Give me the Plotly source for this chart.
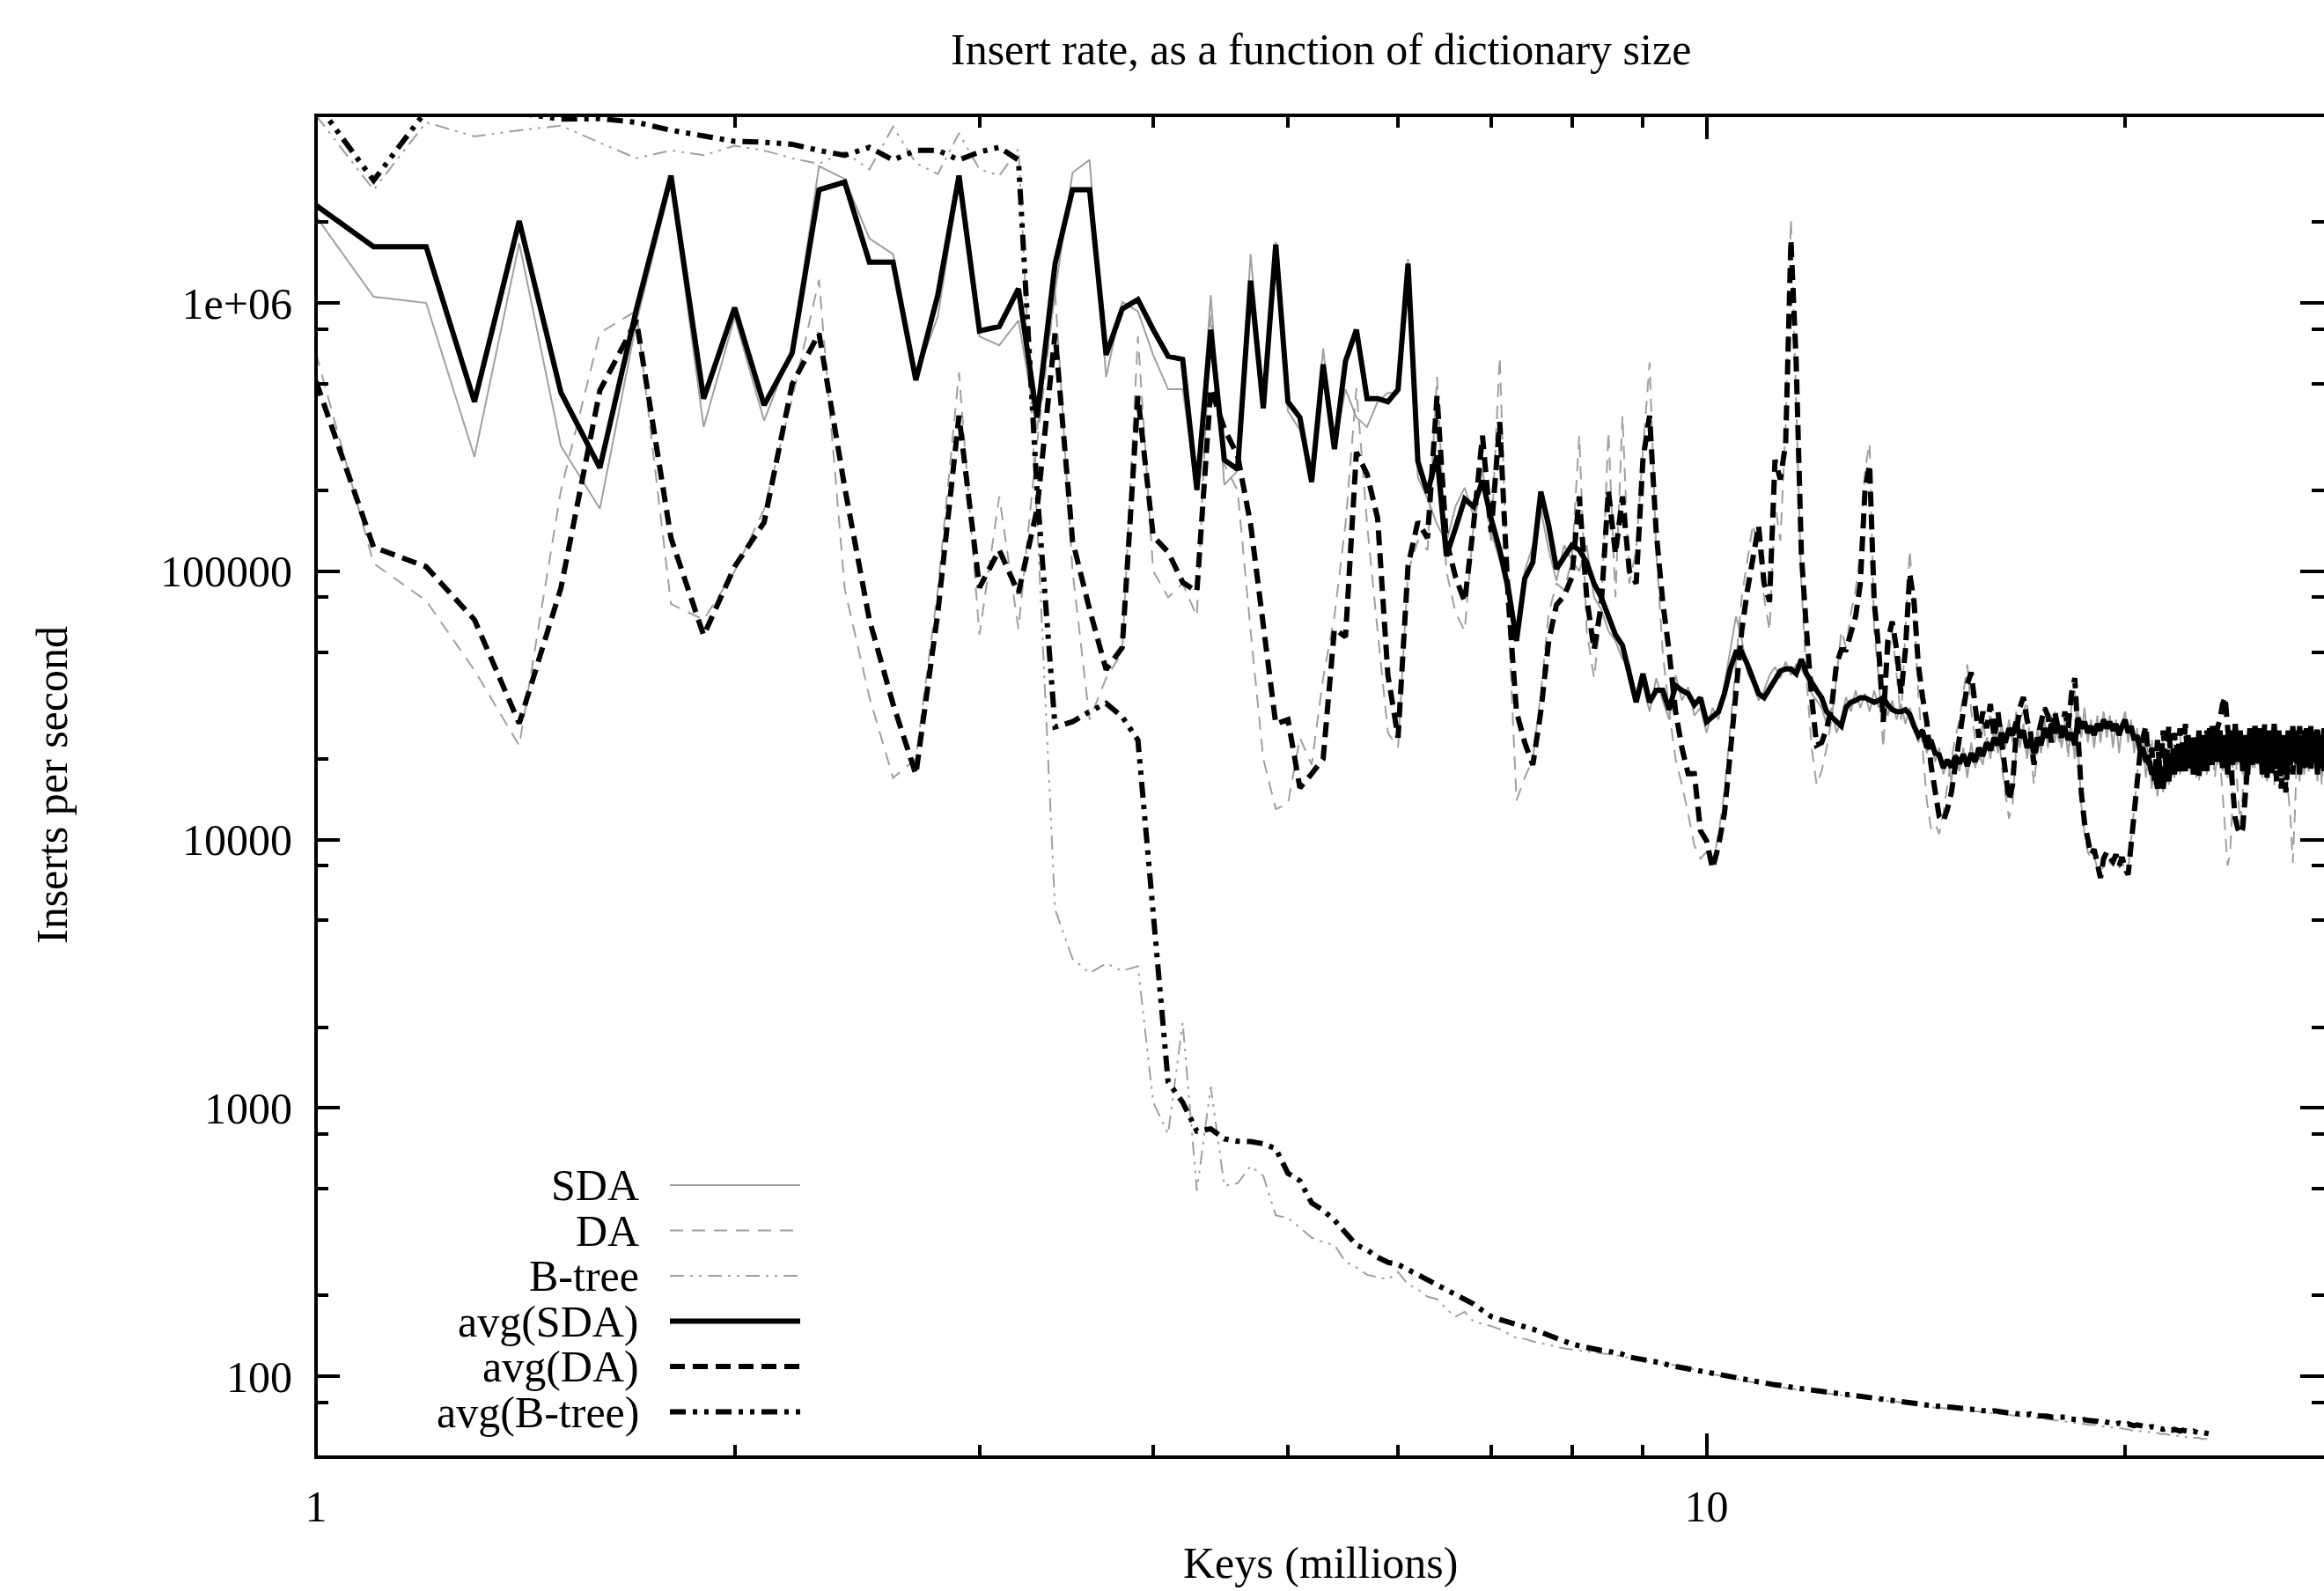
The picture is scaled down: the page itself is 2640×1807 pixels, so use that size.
import math
import plotly.graph_objects as go

# ---------------- data (keys in millions, inserts per second) ----------------
KEYS_M = [round(k / 10, 1) for k in range(10, 281)]      # 1.0 ... 28.0
KEYS_BTREE = KEYS_M[:221]                                  # 1.0 ... 23.0

SDA = [
    2100000, 1055000, 1000000, 267000, 1670000, 293000, 171000, 850000, 2800000, 345000,
    885000, 364000, 680000, 3230000, 2900000, 1740000, 1520000, 530000, 890000, 2830000,
    750000, 695000, 860000, 336000, 1100000, 3060000, 3410000, 530000, 1010000, 930000,
    640000, 477000, 477000, 200000, 1070000, 210000, 237000, 1520000, 440000, 1690000,
    395000, 336000, 224000, 676000, 293000, 477000, 374000, 345000, 428000, 463000,
    460000, 1460000, 224000, 186000, 150000, 128000, 175000, 205000, 160000, 240000,
    140000, 110000, 80000, 62000, 100000, 125000, 170000, 120000, 92000, 125000,
    110000, 100000, 125000, 80000, 72000, 60000, 55000, 47000, 45000, 34000,
    38000, 30000, 40000, 33000, 28000, 41000, 33000, 37000, 29000, 31000,
    25000, 31000, 28000, 38000, 52000, 68000, 56000, 42000, 38000, 33000,
    36000, 41000, 44000, 40000, 46000, 41000, 45000, 43000, 40000, 35000,
    33000, 31000, 27000, 31000, 25000, 28000, 34000, 30000, 36000, 31000,
    35000, 30000, 36000, 31000, 35000, 29000, 33000, 28000, 32000, 27000,
    31000, 27000, 23000, 26000, 21000, 24000, 19500, 22000, 17500, 20000,
    16500, 21000, 18000, 22000, 17000, 23000, 18500, 21000, 19000, 24000,
    20000, 26000, 21000, 27000, 22000, 28000, 23000, 30000, 22000, 27000,
    20000, 25000, 19000, 26000, 21000, 28000, 22000, 29000, 23000, 28000,
    22000, 27000, 21000, 26000, 20000, 30000, 24000, 31000, 23000, 28000,
    22000, 29000, 23000, 30000, 24000, 29000, 22000, 28000, 21000, 27000,
    30000, 23000, 28000, 21000, 26000, 19000, 23000, 17000, 21000, 15500,
    19000, 14500, 18500, 15000, 19500, 16000, 21000, 17000, 22000, 17500,
    22500, 18000, 23000, 17500, 22000, 17000, 23500, 18500, 22500, 17500,
    24000, 19000, 25000, 19000, 24000, 18000, 23000, 17000, 23500, 18500,
    25000, 19000, 24000, 17500, 23000, 17000, 24000, 18500, 25000, 19000,
    23500, 17000, 22500, 16500, 23500, 18000, 25000, 19000, 24000, 17500,
    23000, 16500, 23500, 18000, 24500, 18500, 23500, 16500, 23000, 17500,
    24000, 18000, 24500, 18500, 23500, 16500, 23000, 17000, 24000, 18000,
    23500,
]

DA = [
    650000, 107000, 77700, 42800, 22400, 200000, 774000, 935000, 75500, 66000,
    100000, 170000, 440000, 1220000, 86000, 34000, 17000, 20000, 85000, 550000,
    58000, 190000, 61000, 300000, 1100000, 100000, 28000, 40000, 50000, 750000,
    100000, 80000, 90000, 68000, 900000, 250000, 200000, 60000, 20000, 13000,
    13600, 24000, 19000, 40000, 68000, 150000, 480000, 150000, 60000, 25000,
    22000, 100000, 130000, 120000, 530000, 100000, 70000, 60000, 150000, 220000,
    130000, 630000, 70000, 14000, 17000, 20000, 35000, 70000, 90000, 85000,
    110000, 320000, 60000, 40000, 70000, 330000, 80000, 380000, 90000, 120000,
    280000, 600000, 120000, 50000, 30000, 20000, 16000, 12500, 9500, 8500,
    9000, 8000, 10500, 15000, 26000, 45000, 80000, 110000, 150000, 120000,
    80000, 60000, 180000, 130000, 350000, 2050000, 400000, 90000, 40000, 22000,
    16000, 18000, 22000, 28000, 40000, 60000, 52000, 70000, 85000, 120000,
    240000, 300000, 60000, 40000, 22000, 45000, 60000, 40000, 28000, 60000,
    120000, 70000, 35000, 22000, 14000, 11000, 11500, 10500, 12500, 16000,
    20000, 24000, 28000, 35000, 45000, 30000, 24000, 19000, 28000, 22000,
    30000, 21000, 27000, 19000, 15000, 12000, 13500, 22000, 28000, 30000,
    33000, 21000, 16000, 22000, 25000, 28000, 24000, 23000, 30000, 24000,
    22000, 28000, 20000, 32000, 36000, 21000, 13500, 10500, 9000, 8500,
    8700, 7800, 7500, 8000, 8800, 8200, 8000, 8400, 7800, 8300,
    7600, 7700, 10000, 13000, 17000, 24000, 22000, 26000, 18000, 24000,
    16000, 22000, 17500, 24000, 18500, 25000, 18000, 23500, 19500, 24500,
    20000, 25500, 18500, 23000, 17000, 22500, 16500, 23000, 18000, 24000,
    19000, 22000, 17000, 21000, 19500, 15000, 11000, 8000, 9000, 15000,
    22000, 15000, 11500, 15000, 20000, 26000, 20000, 25000, 18500, 24000,
    19000, 25500, 18000, 23500, 17000, 22500, 16000, 21500, 17500, 22000,
    16500, 20000, 15000, 12000, 8200, 13000, 25000, 20000, 24000, 17500,
    23000, 17500, 24500, 19000, 25000, 18500, 22000, 16000, 22500, 17500,
    23000,
]

BTREE = [
    5000000, 2640000, 4710000, 4170000, 4400000, 4580000, 3950000, 3460000, 3700000, 3550000,
    3850000, 3700000, 3460000, 3300000, 3650000, 3140000, 4530000, 3320000, 3020000, 4290000,
    3150000, 2980000, 3750000, 157000, 5500, 3600, 3180, 3460, 3240, 3380,
    1050, 801, 2080, 492, 1200, 513, 524, 608, 558, 398,
    390, 358, 329, 316, 309, 267, 255, 239, 234, 230,
    245, 220, 211, 198, 194, 178, 167, 174, 160, 157,
    154, 150, 144, 139, 138, 135, 133, 131, 129, 127,
    126, 125, 124, 123, 122, 121, 120, 119, 117, 116,
    115, 114, 113, 112, 111, 110, 109, 107, 106, 105,
    103, 102, 101, 100, 99, 98, 97, 96, 95, 94,
    93.5, 93, 92, 91.5, 90.5, 90, 89.5, 89, 88.5, 88,
    87.5, 87, 86.5, 86, 85.5, 85, 85, 84.5, 84, 83.5,
    83, 82.5, 82, 82, 81.5, 81, 81, 80.5, 80, 79.5,
    79, 78.5, 78, 77.5, 77.5, 77, 76.5, 76.5, 76, 76,
    75.5, 75.5, 75, 75, 74.5, 74.5, 74, 74, 73.5, 73.5,
    73, 73, 72.5, 72.5, 72, 72, 71.5, 71.5, 71, 71,
    70.5, 70.5, 70, 70, 69.5, 69.5, 69, 69, 68.5, 68.5,
    68, 68, 67.5, 67.5, 67, 67, 66.5, 66.5, 66, 66,
    66, 65.5, 65.5, 65, 65, 64.5, 64.5, 64, 64, 64,
    63.5, 63.5, 63, 63, 63, 62.5, 62.5, 62, 62, 62,
    61.5, 61.5, 61, 61, 61, 60.5, 60.5, 60.5, 60, 60,
    60, 59.5, 59.5, 59.5, 59, 59, 59, 58.5, 58.5, 58.5,
    58,
]

AVG_SDA = [
    2310000, 1620000, 1620000, 428000, 2020000, 464000, 243000, 950000, 2980000, 440000,
    960000, 416000, 650000, 2640000, 2820000, 1420000, 1420000, 516000, 1070000, 2980000,
    786000, 817000, 1130000, 374000, 1400000, 2640000, 2640000, 640000, 950000, 1030000,
    795000, 633000, 616000, 201000, 795000, 260000, 240000, 1210000, 405000, 1650000,
    428000, 374000, 215000, 590000, 285000, 607000, 795000, 440000, 440000, 428000,
    476000, 1400000, 257000, 196000, 270000, 114000, 145000, 186000, 174000, 218000,
    157000, 120000, 87000, 55000, 94000, 108000, 198000, 148000, 102000, 113000,
    125000, 120000, 108000, 90000, 80000, 68000, 58000, 53000, 41500, 32500,
    41500, 32500, 36000, 36000, 30500, 37500, 36000, 35000, 31800, 33800,
    27500, 28700, 30000, 35000, 43300, 50000, 50000, 45000, 40000, 35000,
    33800, 36700, 40000, 42500, 43300, 43300, 41500, 47000, 41500, 38300,
    36000, 33800, 30000, 28700, 27500, 26500, 31200, 32500, 33000, 33800,
    33800, 33000, 32500, 33000, 33800, 31800, 30500, 30000, 30000, 30500,
    29300, 26500, 24400, 25500, 22000, 23500, 21000, 20700, 18500, 19800,
    18600, 20500, 19200, 20800, 18800, 21000, 19500, 22000, 20500, 23000,
    21500, 24000, 22500, 25000, 23000, 26000, 24500, 27500, 24000, 25500,
    22000, 23500, 21000, 24000, 22500, 26000, 24000, 27000, 25000, 26500,
    24500, 26000, 23500, 25000, 22500, 28500, 26000, 27500, 25000, 26500,
    24500, 27000, 25500, 28000, 26000, 27500, 25500, 27000, 24500, 26500,
    28000, 25000, 26500, 23500, 24500, 21500, 22000, 19500, 20000, 17500,
    18000, 15500, 18500, 15500, 19500, 16500, 21000, 17500, 22500, 18000,
    23000, 18000, 24500, 18500, 24000, 17500, 25500, 19000, 24500, 18000,
    26000, 19000, 26500, 19500, 25500, 18500, 24500, 17500, 25500, 19000,
    27000, 19500, 25500, 18000, 24500, 17500, 25500, 19000, 26500, 19500,
    25000, 17500, 24000, 17000, 25500, 19000, 27000, 20000, 25500, 18000,
    24500, 17500, 25500, 19000, 26500, 19500, 25000, 17500, 24500, 18500,
    26000, 19000, 26500, 19500, 25000, 17500, 24500, 18500, 26000, 19500,
    25000,
]

AVG_DA = [
    510000, 123000, 104000, 66000, 27100, 86500, 472000, 860000, 133000, 57700,
    104000, 152000, 498000, 770000, 205000, 66000, 32000, 17500, 70000, 380000,
    87000, 120000, 83000, 170000, 770000, 130000, 72000, 43000, 52000, 450000,
    135000, 118000, 91000, 84000, 480000, 340000, 270000, 150000, 63000, 27000,
    28000, 15600, 17600, 20000, 61000, 57000, 278000, 230000, 158000, 41000,
    24000, 105000, 153000, 133000, 450000, 130000, 95000, 77000, 150000, 320000,
    140000, 360000, 80000, 30000, 23000, 19000, 30000, 55000, 75000, 81000,
    95000, 190000, 80000, 51000, 75000, 200000, 116000, 190000, 100000, 90000,
    260000, 380000, 140000, 77000, 50000, 30000, 22000, 17600, 17600, 10800,
    9900, 7800, 9500, 12500, 21000, 36000, 60000, 85000, 116000, 148000,
    90000, 77000, 260000, 220000, 300000, 1720000, 600000, 116000, 60000, 34000,
    22500, 23000, 26000, 31000, 45000, 51000, 51000, 60000, 68000, 90000,
    200000, 250000, 77000, 51000, 27500, 55000, 65000, 51000, 35000, 51000,
    98000, 77000, 45000, 34000, 27500, 19000, 15000, 12200, 11700, 13000,
    15000, 19000, 23000, 30000, 38000, 42000, 30000, 24000, 30000, 26000,
    32000, 24000, 30000, 22000, 18000, 14000, 16000, 25000, 31000, 34000,
    28000, 25000, 19000, 24000, 28000, 31000, 29000, 23000, 30000, 26000,
    24000, 30000, 26000, 35000, 40000, 24000, 15000, 11500, 10000, 8800,
    9200, 8200, 7200, 8500, 9000, 8600, 8300, 8800, 8000, 8600,
    7800, 7400, 9500, 12000, 16000, 21000, 24000, 26500, 19000, 22000,
    16500, 23500, 17000, 25500, 18500, 26500, 18000, 25000, 19000, 26000,
    19500, 27000, 18500, 24500, 17500, 24000, 17000, 24500, 18000, 25500,
    19000, 26500, 19500, 26000, 28000, 32000, 34000, 26000, 20000, 15000,
    12000, 11000, 10500, 11000, 14000, 19000, 26000, 20000, 26500, 19000,
    26000, 19500, 27000, 18500, 25000, 17500, 24000, 16500, 23000, 15500,
    21000, 15000, 20500, 23500, 17500, 25500, 19000, 26500, 20000, 25500,
    18500, 25000, 18000, 26000, 19500, 26500, 19000, 24500, 18000, 25500,
    19500,
]

AVG_BTREE = [
    5600000, 2860000, 5200000, 5300000, 5100000, 4840000, 4860000, 4710000, 4400000, 4170000,
    4000000, 3970000, 3900000, 3700000, 3550000, 3800000, 3410000, 3700000, 3700000, 3410000,
    3650000, 3800000, 3410000, 200000, 26300, 27500, 30000, 32200, 28700, 23500,
    5500, 1250, 1050, 820, 836, 768, 752, 750, 736, 706,
    571, 536, 443, 416, 382, 344, 309, 296, 278, 266,
    261, 250, 239, 229, 220, 211, 202, 194, 186, 176,
    167, 163, 159, 156, 153, 150, 146, 143, 139, 135,
    132, 130, 128, 127, 125, 124, 123, 121, 118, 117,
    116, 115, 114, 112, 110, 109, 108, 107, 106, 105,
    104, 103, 102, 101, 100, 99, 98, 97, 96, 95,
    94.5, 94, 93, 92.5, 91.5, 91, 90.6, 90, 89.5, 89,
    88.5, 88, 87.5, 87, 86.5, 86, 86, 85.5, 85, 84.5,
    84, 83.5, 83, 83, 82.5, 82, 82, 81.8, 81, 80.5,
    80, 79.5, 79, 78.5, 78.5, 78, 77.5, 77.5, 77, 77,
    76.8, 76.5, 76, 76, 75.5, 75.5, 75, 75, 74.5, 74.5,
    74, 74.5, 74, 73.5, 73.5, 73, 73, 72.5, 72.5, 72,
    72, 72.5, 71.5, 71.5, 71, 71.3, 71, 70.5, 70.5, 70,
    70, 70.5, 69.5, 69.5, 69, 69, 68.5, 69, 68.5, 68.5,
    68.7, 68, 67.5, 68, 67.5, 67, 67, 66.5, 67, 66.5,
    66, 66.5, 66, 65.5, 66, 65.5, 65, 65, 64.5, 65,
    64.5, 64, 64, 63.5, 64, 63.5, 63, 63.5, 63, 62.5,
    63, 62.5, 62.5, 62, 62.5, 62, 61.5, 62, 61.5, 61.5,
    61,
]

X_TICKS = [1, 10]
X_TICK_TEXT = ["1", "10"]
X_MINOR = [2, 3, 4, 5, 6, 7, 8, 9, 20]
Y_TICKS = [100, 1000, 10000, 100000, 1000000]
Y_TICK_TEXT = ["100", "1000", "10000", "100000", "1e+06"]
Y_MINOR = [80, 200, 500, 800, 2000, 5000, 8000, 20000, 50000, 80000,
           200000, 500000, 800000, 2000000]

LEGEND_NAMES = ["SDA", "DA", "B-tree", "avg(SDA)", "avg(DA)", "avg(B-tree)"]

# ---------------- styling ----------------
GRAY = "#a0a0a0"
FONT = "Liberation Serif, Times New Roman, serif"
FS = 50
W, H = 2640, 1807
ML, MR, MT, MB = 359, 0, 131, 152
PW, PH = W - ML - MR, H - MT - MB

styles = [
    dict(color=GRAY, width=2, dash="solid"),
    dict(color=GRAY, width=2, dash="15px,10px"),
    dict(color=GRAY, width=2, dash="16px,7px,3px,7px,3px,7px"),
    dict(color="black", width=6, dash="solid"),
    dict(color="black", width=6, dash="17px,9px"),
    dict(color="black", width=6, dash="18px,8px,5px,8px,5px,8px"),
]
data = [
    (KEYS_M, SDA), (KEYS_M, DA), (KEYS_BTREE, BTREE),
    (KEYS_M, AVG_SDA), (KEYS_M, AVG_DA), (KEYS_BTREE, AVG_BTREE),
]

fig = go.Figure()
for name, (xs, ys), st in zip(LEGEND_NAMES, data, styles):
    fig.add_trace(go.Scatter(x=xs, y=ys, mode="lines", name=name, line=st,
                             showlegend=False, hoverinfo="skip"))

tickfont = dict(family=FONT, size=FS, color="black")
fig.update_xaxes(
    type="log", range=[0, math.log10(27.8)],
    tickmode="array", tickvals=X_TICKS, ticktext=X_TICK_TEXT,
    ticks="inside", ticklen=27, tickwidth=4, tickcolor="black",
    minor=dict(tickmode="array", tickvals=X_MINOR, ticks="inside",
               ticklen=14, tickwidth=3.5, tickcolor="black", showgrid=False),
    mirror="ticks", showline=False, showgrid=False, zeroline=False,
    tickfont=tickfont, ticklabelstandoff=22,
)
fig.update_yaxes(
    type="log", range=[math.log10(50), math.log10(5e6)],
    tickmode="array", tickvals=Y_TICKS, ticktext=Y_TICK_TEXT,
    ticks="inside", ticklen=27, tickwidth=4, tickcolor="black",
    minor=dict(tickmode="array", tickvals=Y_MINOR, ticks="inside",
               ticklen=14, tickwidth=3.5, tickcolor="black", showgrid=False),
    mirror="ticks", showline=False, showgrid=False, zeroline=False,
    tickfont=tickfont, ticklabelstandoff=26,
)

shapes = [dict(type="rect", xref="paper", yref="paper", x0=0, x1=1 + 4 / PW,
               y0=0, y1=1, line=dict(color="black", width=4), layer="above")]
annotations = []

def px_x(p):
    return (p - ML) / PW

def px_y(p):
    return (H - MB - p) / PH

legend_rows = [1346, 1397.5, 1449, 1500.5, 1552, 1603.5]
for name, st, yp in zip(LEGEND_NAMES, styles, legend_rows):
    yy = px_y(yp)
    annotations.append(dict(text=name, x=px_x(728), y=yy, xref="paper", yref="paper",
                            xanchor="right", yanchor="middle", showarrow=False,
                            font=dict(family=FONT, size=FS, color="black")))
    shapes.append(dict(type="line", xref="paper", yref="paper",
                       x0=px_x(761), x1=px_x(909), y0=yy, y1=yy,
                       line=dict(color=st["color"], width=st["width"], dash=st["dash"])))

annotations.append(dict(text="Insert rate, as a function of dictionary size",
                        x=px_x(1500), y=px_y(56), xref="paper", yref="paper",
                        xanchor="center", yanchor="middle", showarrow=False,
                        font=dict(family=FONT, size=FS, color="black")))
annotations.append(dict(text="Keys (millions)", x=px_x(1500), y=px_y(1775),
                        xref="paper", yref="paper", xanchor="center", yanchor="middle",
                        showarrow=False, font=dict(family=FONT, size=FS, color="black")))
annotations.append(dict(text="Inserts per second", x=px_x(59), y=px_y(892),
                        xref="paper", yref="paper", xanchor="center", yanchor="middle",
                        textangle=-90, showarrow=False,
                        font=dict(family=FONT, size=FS, color="black")))

fig.update_layout(
    width=W, height=H, autosize=False,
    margin=dict(l=ML, r=MR, t=MT, b=MB, pad=0),
    paper_bgcolor="white", plot_bgcolor="white",
    shapes=shapes, annotations=annotations, showlegend=False,
    font=dict(family=FONT, size=FS, color="black"),
)

fig.write_html("out.html",
               config={"displayModeBar": False},
               post_script="document.body.style.margin='0';document.body.style.overflow='hidden';")
